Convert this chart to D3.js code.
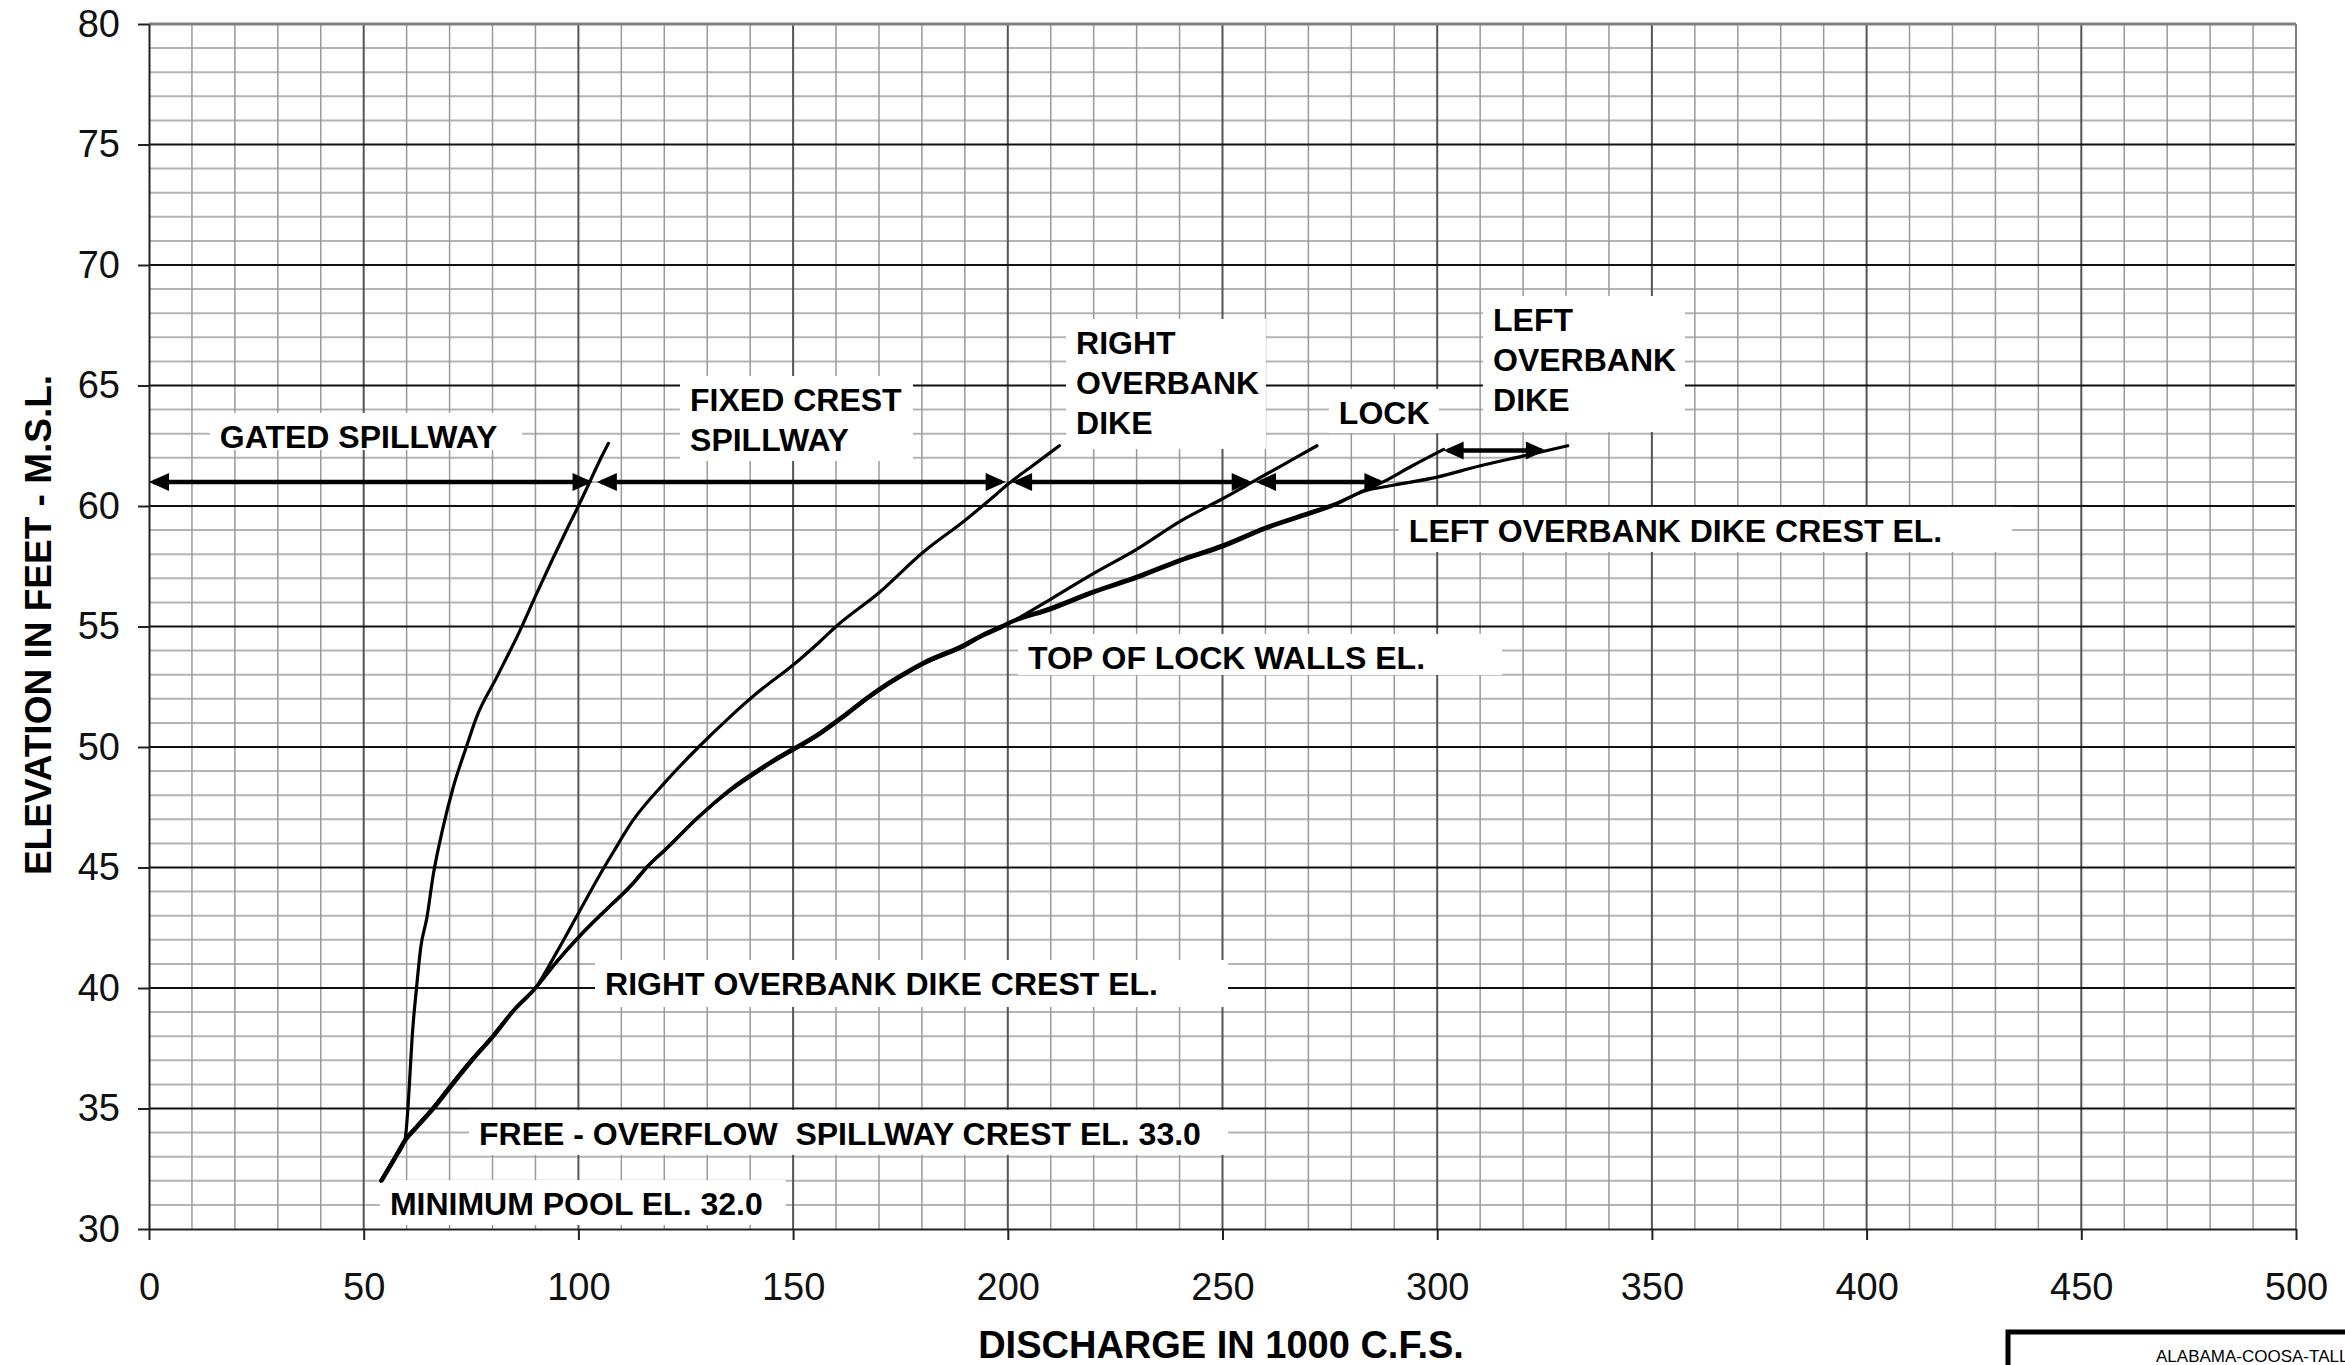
<!DOCTYPE html>
<html>
<head>
<meta charset="utf-8">
<script src="https://cdn.jsdelivr.net/npm/d3@7"></script>
<style>
  html, body { margin: 0; padding: 0; background: #fff; overflow: hidden; }
  svg { display: block; font-family: "Liberation Sans", Arial, sans-serif; }
</style>
</head>
<body>
<svg id="chart" width="2345" height="1365"></svg>
<script>
// ---- Rating curves: [discharge (1000 c.f.s.), elevation (ft M.S.L.)] ----
const curveGatedSpillway = [
  [54, 32], [57, 32.9], [59.6, 33.7], [60.3, 35], [60.8, 36.5], [61.3, 38],
  [62.3, 40], [63.3, 41.7], [64.7, 42.9], [66.2, 44.7], [68.4, 46.6], [70.8, 48.3],
  [73.9, 50], [76.2, 51.2], [81, 52.9], [86.3, 54.8], [90.1, 56.3], [94, 57.8],
  [97.5, 59.1], [100, 60], [102.9, 61.1], [105, 61.9], [107, 62.6]
];
const curveFixedCrest = [
  [54.3, 32], [57.3, 32.9], [59.9, 33.7], [62.4, 34.2], [66.4, 35], [70.4, 35.9],
  [75.4, 37], [80.3, 38], [85.2, 39.1], [90, 40], [95, 41.5], [100, 43.1], [105, 44.7],
  [108, 45.6], [112.5, 46.9], [120, 48.5], [128, 50], [135, 51.2], [142, 52.3],
  [150, 53.4], [156.4, 54.4], [160, 55], [170, 56.4], [180.4, 58.1], [190, 59.4],
  [197.4, 60.5], [200, 60.9], [206, 61.7], [212, 62.5]
];
const curveRightOverbank = [
  [54, 32], [57, 32.9], [59.6, 33.7], [62, 34.2], [66, 35], [70, 35.9], [75, 37],
  [80, 38], [85, 39.1], [90, 40], [95, 41.1], [100, 42.1], [105, 43], [112.5, 44.3],
  [116.4, 45.1], [120, 45.7], [128, 47.1], [135, 48.15], [145, 49.35], [156.4, 50.55],
  [161.8, 51.25], [168, 52.1], [177.3, 53.15], [180.4, 53.45], [190, 54.2],
  [193.6, 54.56], [198.6, 54.97], [200, 55.1], [210.6, 56.2], [220, 57.2],
  [230, 58.2], [240.5, 59.4], [250, 60.3], [257, 61], [264, 61.7], [272, 62.5]
];
const curveLock = [
  [54, 32], [57, 32.9], [59.6, 33.7], [62, 34.2], [66, 35], [70, 35.9], [75, 37],
  [80, 38], [85, 39.1], [90, 40], [95, 41.1], [100, 42.1], [105, 43], [112.5, 44.3],
  [116.4, 45.1], [120, 45.7], [128, 47.1], [135, 48.2], [145, 49.42], [156.4, 50.62],
  [161.8, 51.32], [168, 52.17], [177.3, 53.22], [180.4, 53.52], [190, 54.27],
  [193.6, 54.62], [198.6, 55.03], [200, 55.15], [210, 55.78], [220, 56.47], [230, 57.08],
  [240, 57.77], [250, 58.38], [260, 59.12], [270, 59.72], [275.6, 60.05], [282.7, 60.62],
  [287.4, 61], [294, 61.65], [301.5, 62.35]
];
const curveLeftOverbank = [
  [54, 32], [57, 32.9], [59.6, 33.7], [62, 34.2], [66, 35], [70, 35.9], [75, 37],
  [80, 38], [85, 39.1], [90, 40], [95, 41.1], [100, 42.1], [105, 43], [112.5, 44.3],
  [116.4, 45.1], [120, 45.7], [128, 47.1], [135, 48.15], [145, 49.35], [156.4, 50.55],
  [161.8, 51.25], [168, 52.1], [177.3, 53.15], [180.4, 53.45], [190, 54.2],
  [193.6, 54.56], [198.6, 54.97], [200, 55.1], [210, 55.7], [220, 56.4], [230, 57],
  [240, 57.7], [250, 58.3], [260, 59.05], [270, 59.65], [275.6, 60], [282.7, 60.6],
  [290, 60.87], [300, 61.2], [309.8, 61.66], [319.9, 62.07], [330.4, 62.5]
];

// ---- Discharge ranges carried by each structure (double-headed arrows) ----
const rangeStart = [0, 104.3, 201, 257.8, 301.5];
const rangeEnd   = [103.3, 199.5, 256.8, 287.7, 325.3];
const rangeElev  = [61, 61, 61, 61, 62.3];

// ---- Axis ticks ----
const xTicks = [0, 50, 100, 150, 200, 250, 300, 350, 400, 450, 500];
const yTicks = [30, 35, 40, 45, 50, 55, 60, 65, 70, 75, 80];

// ---- Annotations: text lines, text start / first baseline (data units), box right edge ----
const notes = [
  { lines: ["GATED SPILLWAY"], x: 16.5, y: 62.41, right: 86.9, padB: 2 },
  { lines: ["FIXED CREST", "SPILLWAY"], x: 126.0, y: 63.94, right: 177.9, padB: 10 },
  { lines: ["RIGHT", "OVERBANK", "DIKE"], x: 215.9, y: 66.31, right: 260.1, padB: 15 },
  { lines: ["LOCK"], x: 277.1, y: 63.40, right: 300.4, padB: 9 },
  { lines: ["LEFT", "OVERBANK", "DIKE"], x: 313.0, y: 67.26, right: 357.7, padB: 21 },
  { lines: ["LEFT OVERBANK DIKE CREST EL."], x: 293.4, y: 58.51, right: 433.9, padB: 10 },
  { lines: ["TOP OF LOCK WALLS EL."], x: 204.7, y: 53.24, right: 315.1, padB: 6 },
  { lines: ["RIGHT OVERBANK DIKE CREST EL."], x: 106.2, y: 39.71, right: 251.3, padB: 12 },
  { lines: ["FREE - OVERFLOW  SPILLWAY CREST EL. 33.0"], x: 76.85, y: 33.49, right: 251.3, padB: 10 },
  { lines: ["MINIMUM POOL EL. 32.0"], x: 56.1, y: 30.58, right: 148.3, padB: 10 }
];

const W = 2345, H = 1365;
const FONT = '"Liberation Sans", Arial, Helvetica, sans-serif';

const x = d3.scaleLinear().domain([0, 500]).range([149, 2296]);
const y = d3.scaleLinear().domain([30, 80]).range([1229, 24]);

const svg = d3.select("#chart");
svg.append("rect").attr("width", W).attr("height", H).attr("fill", "#fff");

// ---- Grid ----
const grid = svg.append("g");
const hLine = (sel) => sel.attr("x1", x(0)).attr("x2", x(500))
  .attr("y1", d => y(d)).attr("y2", d => y(d));
const vLine = (sel) => sel.attr("y1", y(30)).attr("y2", y(80))
  .attr("x1", d => x(d)).attr("x2", d => x(d));

grid.append("g").selectAll("line")
  .data(d3.range(31, 80).filter(v => v % 5 !== 0)).join("line").call(hLine)
  .attr("stroke", "#b4b4b4").attr("stroke-width", 2);
grid.append("g").selectAll("line")
  .data(d3.range(10, 500, 10).filter(v => v % 50 !== 0)).join("line").call(vLine)
  .attr("stroke", "#9a9a9a").attr("stroke-width", 1.5);
grid.append("g").selectAll("line")
  .data(d3.range(50, 500, 50)).join("line").call(vLine)
  .attr("stroke", "#555").attr("stroke-width", 2);
grid.append("g").selectAll("line")
  .data(d3.range(35, 80, 5)).join("line").call(hLine)
  .attr("stroke", "#111").attr("stroke-width", 2);
grid.append("line").datum(80).call(hLine).attr("stroke", "#808080").attr("stroke-width", 3);
grid.append("line").datum(500).call(vLine).attr("stroke", "#808080").attr("stroke-width", 2);

// ---- Annotation backgrounds (white boxes over the grid) ----
const LINE_H = 40, CAP = 23;
const boxG = svg.append("g");
notes.forEach(n => {
  const tx = x(n.x), ty = y(n.y);
  const lastBase = ty + (n.lines.length - 1) * LINE_H;
  boxG.append("rect")
    .attr("x", tx - 10).attr("y", ty - CAP - 12)
    .attr("width", x(n.right) - (tx - 10))
    .attr("height", (lastBase + n.padB) - (ty - CAP - 12))
    .attr("fill", "#fff");
});

// ---- Axes ----
const styleAxis = g => {
  g.attr("font-family", FONT).attr("font-size", 38);
  g.select(".domain").attr("stroke", "#222").attr("stroke-width", 2);
  g.selectAll(".tick line").attr("stroke", "#222").attr("stroke-width", 2);
  g.selectAll(".tick text").attr("fill", "#111");
};
svg.append("g").attr("transform", `translate(${x(0)},0)`)
  .call(d3.axisLeft(y).tickValues(yTicks).tickSize(11).tickPadding(18).tickSizeOuter(0))
  .call(styleAxis);
svg.append("g").attr("transform", `translate(0,${y(30)})`)
  .call(d3.axisBottom(x).tickValues(xTicks).tickSize(11).tickPadding(33).tickSizeOuter(0))
  .call(styleAxis);

// ---- Axis titles ----
svg.append("text")
  .attr("x", 1221).attr("y", 1358).attr("text-anchor", "middle")
  .attr("font-family", FONT).attr("font-weight", "bold").attr("font-size", 38)
  .attr("fill", "#000").text("DISCHARGE IN 1000 C.F.S.");
svg.append("text")
  .attr("transform", "translate(51,625) rotate(-90)").attr("text-anchor", "middle")
  .attr("font-family", FONT).attr("font-weight", "bold").attr("font-size", 37)
  .attr("fill", "#000").text("ELEVATION IN FEET - M.S.L.");

// ---- Rating curves ----
const line = d3.line().x(d => x(d[0])).y(d => y(d[1])).curve(d3.curveMonotoneX);
const curves = [curveGatedSpillway, curveFixedCrest, curveRightOverbank, curveLock, curveLeftOverbank];
svg.append("g").selectAll("path").data(curves).join("path")
  .attr("d", line).attr("fill", "none").attr("stroke", "#000")
  .attr("stroke-width", 3.2).attr("stroke-linejoin", "round").attr("stroke-linecap", "round");

// ---- Annotation text ----
const textG = svg.append("g");
notes.forEach(n => {
  const t = textG.append("text")
    .attr("font-family", FONT).attr("font-weight", "bold").attr("font-size", 32)
    .attr("fill", "#000").style("white-space", "pre");
  n.lines.forEach((s, k) => {
    t.append("tspan").attr("x", x(n.x)).attr("y", y(n.y) + k * LINE_H).text(s);
  });
});

// ---- Discharge range arrows ----
const HEAD_L = 20, HEAD_W = 9;
const arrowG = svg.append("g");
rangeStart.forEach((s, i) => {
  const x0 = x(s), x1 = x(rangeEnd[i]), yy = y(rangeElev[i]);
  arrowG.append("line").attr("x1", x0 + 4).attr("x2", x1 - 4)
    .attr("y1", yy).attr("y2", yy).attr("stroke", "#000").attr("stroke-width", 4.5);
  arrowG.append("path")
    .attr("d", `M${x0},${yy}L${x0 + HEAD_L},${yy - HEAD_W}L${x0 + HEAD_L},${yy + HEAD_W}Z`
      + `M${x1},${yy}L${x1 - HEAD_L},${yy - HEAD_W}L${x1 - HEAD_L},${yy + HEAD_W}Z`)
    .attr("fill", "#000");
});

// ---- Title block corner ----
svg.append("path").attr("d", `M2008,${H}V1332H${W}`)
  .attr("fill", "#fff").attr("stroke", "#000").attr("stroke-width", 5);
svg.append("text").attr("x", 2156).attr("y", 1362)
  .attr("font-family", FONT).attr("font-size", 17).attr("fill", "#000")
  .text("ALABAMA-COOSA-TALLAPOOSA RIVER BASIN");
</script>
</body>
</html>
